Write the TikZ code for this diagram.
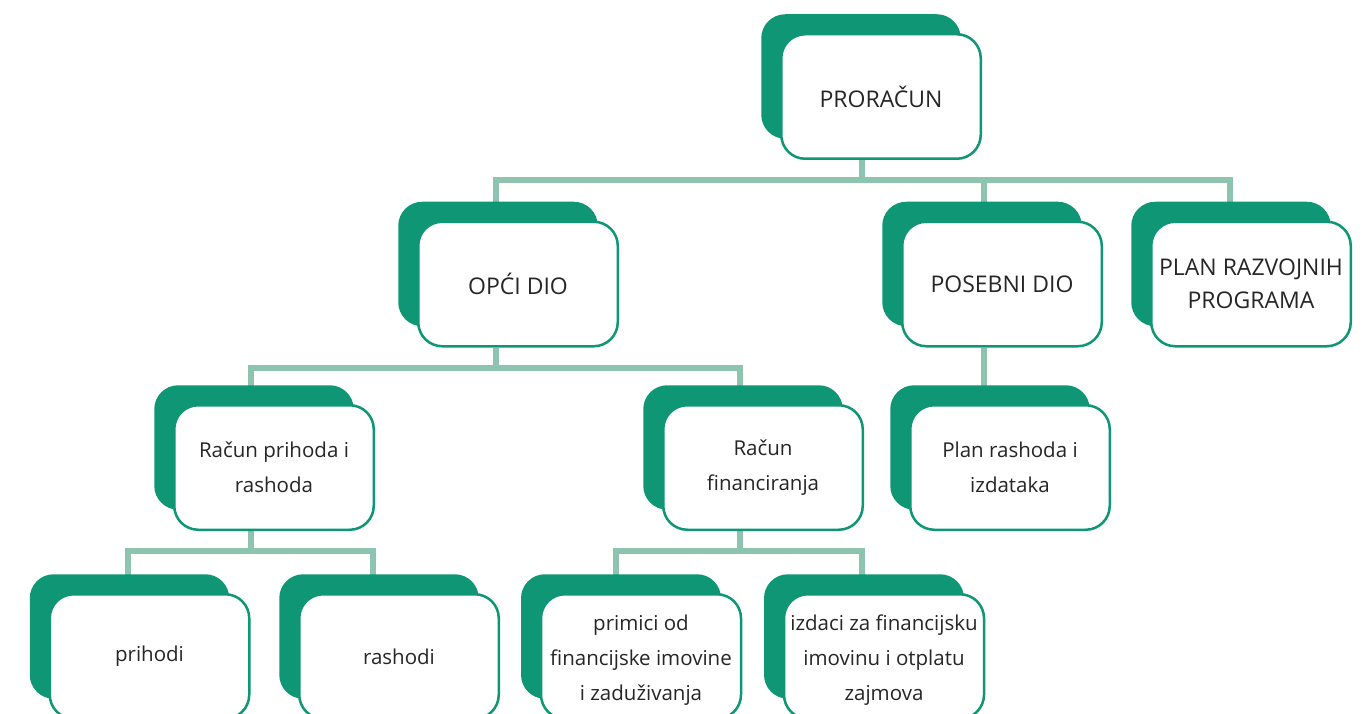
\documentclass[tikz,border=0pt]{standalone}
\usepackage{fontspec}
\setmainfont{Open Sans}
\usetikzlibrary{shadows,backgrounds}
\definecolor{dkg}{HTML}{0E9675}
\definecolor{lg}{HTML}{8DC4B0}
\definecolor{txt}{HTML}{262626}
\begin{document}
\begin{tikzpicture}[x=1pt,y=-1pt,
  box/.style={draw=dkg, line width=2.5pt, fill=white, rounded corners=24pt,
    minimum width=199.5pt, minimum height=124.5pt, inner sep=2pt, align=center,
    text=txt, font=\fontsize{20.5}{35}\selectfont,
    general shadow={fill=dkg, draw=none, shadow xshift=-20pt, shadow yshift=20pt}},
  capsbox/.style={box, font=\fontsize{23}{33}\selectfont},
  conn/.style={draw=lg, line width=6pt}]
\useasboundingbox (0,0) rectangle (1362,714);
% level 0
\node[capsbox] (pror) at (881,96.5) {PRORAČUN};
% level 1
\node[capsbox] (opci) at (518,284) {OPĆI DIO};
\node[capsbox] (pos) at (1002,284) {POSEBNI DIO};
\node[capsbox] (prp) at (1251,284) {PLAN RAZVOJNIH\\PROGRAMA};
% level 2
\node[box] (rpr) at (274,467.5) {Račun prihoda i\\rashoda};
\node[box] (rfin) at (763,467.5) {Račun\\financiranja};
\node[box] (plr) at (1010,467.5) {Plan rashoda i\\izdataka};
% level 3
\node[box] (prih) at (149.5,656.5) {prihodi};
\node[box] (rash) at (399,656.5) {rashodi};
\node[box] (prim) at (641,656.5) {\raisebox{-4pt}[\height][\depth]{\parbox{196pt}{\centering primici od\\financijske imovine\\i zaduživanja}}};
\node[box] (izd) at (884,656.5) {\raisebox{-4pt}[\height][\depth]{\parbox{196pt}{\centering izdaci za financijsku\\imovinu i otplatu\\zajmova}}};
% connectors
\begin{scope}[on background layer]
\draw[conn] ([xshift=-19pt]pror.south) -- ++(0,20) -| ([xshift=-22pt]opci.center);
\draw[conn] ([xshift=-19pt]pror.south) -- ++(0,20) -| ([xshift=-18pt]pos.center);
\draw[conn] ([xshift=-19pt]pror.south) -- ++(0,20) -| ([xshift=-21pt]prp.center);
\draw[conn] ([xshift=-22pt]opci.south) -- ++(0,20) -| ([xshift=-23pt]rpr.center);
\draw[conn] ([xshift=-22pt]opci.south) -- ++(0,20) -| ([xshift=-23pt]rfin.center);
\draw[conn] ([xshift=-18pt]pos.south) -- ([xshift=-18pt]pos.south |- plr.center);
\draw[conn] ([xshift=-23pt]rpr.south) -- ++(0,20) -| ([xshift=-21.5pt]prih.center);
\draw[conn] ([xshift=-23pt]rpr.south) -- ++(0,20) -| ([xshift=-26pt]rash.center);
\draw[conn] ([xshift=-23pt]rfin.south) -- ++(0,20) -| ([xshift=-25pt]prim.center);
\draw[conn] ([xshift=-23pt]rfin.south) -- ++(0,20) -| ([xshift=-22pt]izd.center);
\end{scope}
\end{tikzpicture}
\end{document}
